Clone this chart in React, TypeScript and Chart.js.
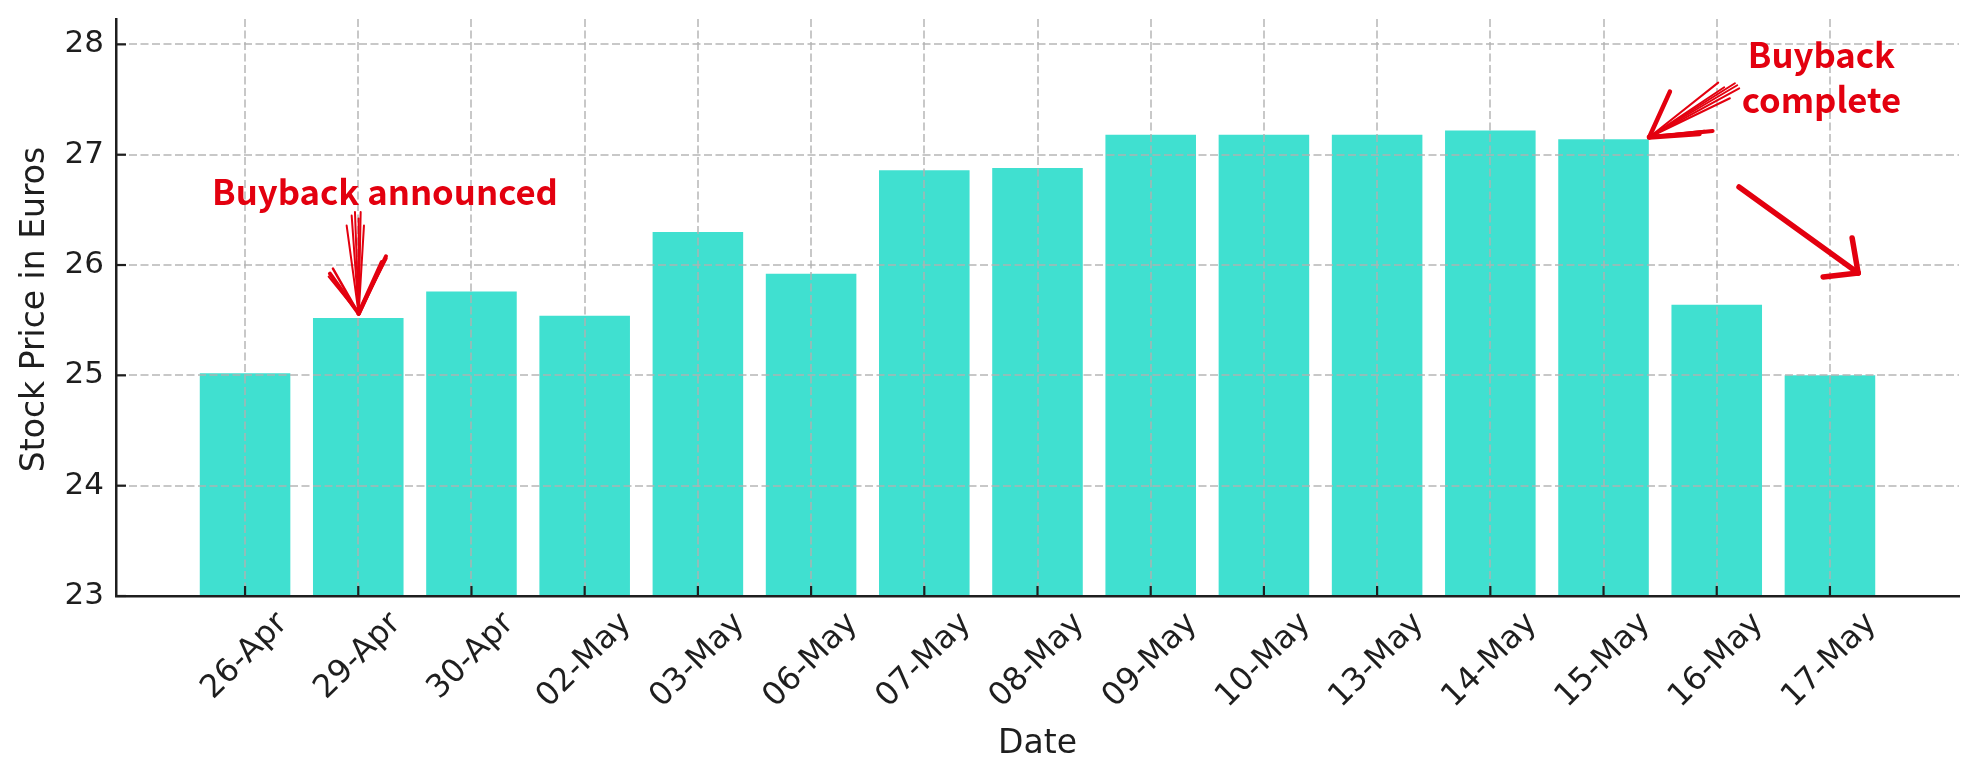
import React, { useEffect, useRef } from "react";
import { Chart, registerables } from "chart.js";

Chart.register(...registerables);

// ---- data ----
const DATES = [
  "26-Apr", "29-Apr", "30-Apr", "02-May", "03-May", "06-May", "07-May", "08-May",
  "09-May", "10-May", "13-May", "14-May", "15-May", "16-May", "17-May",
];
const PRICES = [
  25.02, 25.52, 25.76, 25.54, 26.3, 25.92, 26.86, 26.88,
  27.18, 27.18, 27.18, 27.22, 27.14, 25.64, 25.0,
];
const Y_TICKS = [23, 24, 25, 26, 27, 28];
const Y_MIN = 23;
const Y_MAX = 28.23;
const X_MIN = -1.14;
const X_MAX = 15.14;

const X_TITLE = "Date";
const Y_TITLE = "Stock Price in Euros";

// ---- annotations ----
const ANN_ANNOUNCED = { text: "Buyback announced", x: 1.236, y: 26.544, barIndex: 1 };
const ANN_COMPLETE = { lines: ["Buyback", "complete"], x: 13.925, ys: [27.788, 27.378], barIndex: 12 };
const ARROW_DROP = { from: { x: 13.197, y: 26.707 }, to: { x: 14.249, y: 25.928 } };

const W = 1979;
const H = 780;
const RED = "#e3000f";
const BAR = "#40E0D0";
const INK = "#1e1e1e";
const GRID = "rgba(176,176,176,0.7)";

function line(ctx: CanvasRenderingContext2D, x1: number, y1: number, x2: number, y2: number, w: number) {
  ctx.lineWidth = w;
  ctx.beginPath();
  ctx.moveTo(x1, y1);
  ctx.lineTo(x2, y2);
  ctx.stroke();
}

const overlay = {
  id: "overlay",
  afterDraw(chart: any) {
    const ctx: CanvasRenderingContext2D = chart.ctx;
    const xs = chart.scales.x;
    const ys = chart.scales.y;
    const a = chart.chartArea;
    ctx.save();

    // inward ticks
    ctx.strokeStyle = INK;
    ctx.lineCap = "butt";
    DATES.forEach((_, i) => {
      const px = xs.getPixelForValue(i);
      line(ctx, px, a.bottom, px, a.bottom - 10, 2.2);
    });
    Y_TICKS.forEach((v) => {
      const py = ys.getPixelForValue(v);
      line(ctx, a.left, py, a.left + 10, py, 2.2);
    });

    // x tick labels (rotated 45, centered)
    const tf = 32;
    ctx.fillStyle = INK;
    ctx.font = `${tf}px "DejaVu Sans"`;
    DATES.forEach((lab, i) => {
      const w = ctx.measureText(lab).width;
      const half = (w + tf * 0.96) / (2 * Math.SQRT2);
      const cx = xs.getPixelForValue(i);
      const cy = a.bottom + 12 + half;
      ctx.save();
      ctx.translate(cx, cy);
      ctx.rotate(-Math.PI / 4);
      ctx.textAlign = "center";
      ctx.textBaseline = "alphabetic";
      ctx.fillText(lab, 0, tf * 0.25);
      ctx.restore();
    });

    // axis titles
    ctx.font = `33px "DejaVu Sans"`;
    ctx.textAlign = "center";
    ctx.textBaseline = "alphabetic";
    ctx.fillText(X_TITLE, (a.left + a.right) / 2, 753);
    ctx.save();
    ctx.translate(44.3, (a.top + a.bottom) / 2 + 2);
    ctx.rotate(-Math.PI / 2);
    ctx.fillText(Y_TITLE, 0, 0);
    ctx.restore();

    // annotation texts
    ctx.fillStyle = RED;
    ctx.strokeStyle = RED;
    ctx.font = `bold 100px "Noto Sans CJK SC"`;
    const base = ctx.measureText(ANN_ANNOUNCED.text).width;
    const fs = (100 * 346) / base;
    ctx.font = `bold ${fs}px "Noto Sans CJK SC"`;
    ctx.textAlign = "center";
    ctx.fillText(ANN_ANNOUNCED.text, xs.getPixelForValue(ANN_ANNOUNCED.x), ys.getPixelForValue(ANN_ANNOUNCED.y));
    ANN_COMPLETE.lines.forEach((t, k) => {
      ctx.fillText(t, xs.getPixelForValue(ANN_COMPLETE.x), ys.getPixelForValue(ANN_COMPLETE.ys[k]));
    });

    ctx.lineCap = "round";
    ctx.lineJoin = "round";

    // sketchy arrow 1: down to the 29-Apr bar
    {
      const i = ANN_ANNOUNCED.barIndex;
      const tx = xs.getPixelForValue(i) + 0.4;
      const ty = ys.getPixelForValue(PRICES[i]) - 4.4;
      const shaft = [[-12, -88], [-7, -98], [-3.7, -101.6], [2, -101.6], [5.3, -88], [0, -95]];
      shaft.forEach(([dx, dy]) => line(ctx, tx + dx, ty + dy, tx, ty, 2));
      const wings = [[-28.7, -40, 4], [-25.7, -45, 2.5], [-30, -37, 2], [27.3, -57.3, 4], [23.3, -51.3, 4.5], [28, -55, 2]];
      wings.forEach(([dx, dy, w]) => line(ctx, tx + dx, ty + dy, tx, ty, w));
    }

    // sketchy arrow 2: to the 15-May bar corner
    {
      const i = ANN_COMPLETE.barIndex;
      const tx = xs.getPixelForValue(i + 0.4) + 0.4;
      const ty = ys.getPixelForValue(PRICES[i]) - 2;
      const shaft = [[69, -54.6], [85.7, -54], [90, -49], [80.7, -39], [75, -50], [88, -52]];
      shaft.forEach(([dx, dy]) => line(ctx, tx + dx, ty + dy, tx, ty, 2));
      const wings = [[20.7, -45.6, 4.5], [18, -40, 3], [63.4, -6.3, 4], [50, -3.5, 5], [55, -6, 3]];
      wings.forEach(([dx, dy, w]) => line(ctx, tx + dx, ty + dy, tx, ty, w));
    }

    // straight arrow 3
    {
      const x1 = xs.getPixelForValue(ARROW_DROP.from.x);
      const y1 = ys.getPixelForValue(ARROW_DROP.from.y);
      const x2 = xs.getPixelForValue(ARROW_DROP.to.x);
      const y2 = ys.getPixelForValue(ARROW_DROP.to.y);
      line(ctx, x1, y1, x2, y2, 5.5);
      line(ctx, x2 - 6, y2 - 35, x2, y2, 5.5);
      line(ctx, x2 - 35, y2 + 4, x2, y2, 5.5);
    }

    ctx.restore();
  },
};

export default function App() {
  const ref = useRef<HTMLCanvasElement | null>(null);

  useEffect(() => {
    if (!ref.current) return;
    document.body.style.margin = "0";
    const chart = new Chart(ref.current, {
      type: "bar",
      data: {
        datasets: [
          {
            data: PRICES.map((v, i) => ({ x: i, y: v })),
            backgroundColor: BAR,
            borderWidth: 0,
            barPercentage: 0.8,
            categoryPercentage: 1.0,
          },
        ],
      },
      options: {
        animation: false,
        responsive: false,
        devicePixelRatio: 1,
        layout: { padding: { left: 0, right: 20, top: 19, bottom: 0 } },
        plugins: { legend: { display: false }, tooltip: { enabled: false } },
        scales: {
          x: {
            type: "linear",
            offset: false,
            min: X_MIN,
            max: X_MAX,
            afterBuildTicks: (s: any) => {
              s.ticks = DATES.map((_, i) => ({ value: i }));
            },
            afterFit: (s: any) => {
              s.height = 184;
              s.paddingLeft = 0;
              s.paddingRight = 0;
            },
            ticks: { display: false },
            grid: { offset: false, color: GRID, lineWidth: 2, drawTicks: false, z: 1 },
            border: { display: true, color: INK, width: 2.5, dash: [8, 3.5], z: 2 },
          },
          y: {
            type: "linear",
            min: Y_MIN,
            max: Y_MAX,
            afterBuildTicks: (s: any) => {
              s.ticks = Y_TICKS.map((v) => ({ value: v }));
            },
            afterFit: (s: any) => {
              s.width = 116;
              s.paddingTop = 0;
              s.paddingBottom = 0;
            },
            ticks: {
              padding: 12,
              color: INK,
              font: { family: "DejaVu Sans", size: 31 },
            },
            grid: { color: GRID, lineWidth: 2, drawTicks: false, z: 1 },
            border: { display: true, color: INK, width: 2.5, dash: [8, 3.5], z: 2 },
          },
        },
      },
      plugins: [overlay],
    } as any);
    return () => chart.destroy();
  }, []);

  return (
    <div style={{ position: "absolute", left: 0, top: 0, width: W, height: H, background: "#fff" }}>
      <canvas ref={ref} width={W} height={H} style={{ width: W, height: H, display: "block" }} />
    </div>
  );
}
